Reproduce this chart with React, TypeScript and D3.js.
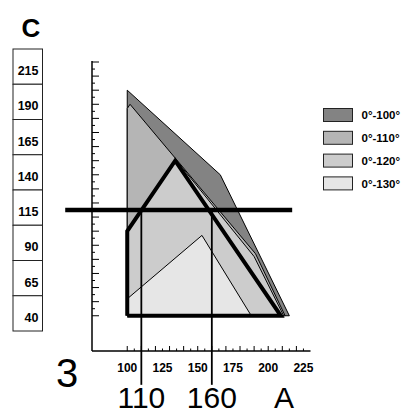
import React from 'react';
import * as d3 from 'd3';

// ---- data ----
const legendLabels = ['0°-100°', '0°-110°', '0°-120°', '0°-130°'];
const fillColors = ['#838383', '#b5b5b5', '#cccccc', '#e6e6e6'];
const area100: [number, number][] = [[100, 40], [100, 200], [166, 140], [215, 40]];
const area110: [number, number][] = [[100, 40], [100, 187], [102, 190], [191, 84], [212, 40]];
const area120: [number, number][] = [[100, 40], [100, 100], [135, 150], [190, 82], [211, 40]];
const area130: [number, number][] = [[100, 40], [100, 52], [153, 97], [188, 40]];
const outline: [number, number][] = [[100, 40], [100, 100], [134, 150], [209, 40], [100, 40]];
const hLineY = 115;
const hLineX: [number, number] = [56, 217];
const markX = [110, 160];
const markBottom = -9;
const boxLabels = [215, 190, 165, 140, 115, 90, 65, 40];
const xTickLabels = [100, 125, 150, 175, 200, 225];
const xMinorTicks = d3.range(100, 226, 5);
const yMinorTicks = d3.range(40, 221, 5);

const FONT = '"Liberation Sans", Arial, Helvetica, sans-serif';

export default function App() {
  const x = d3.scaleLinear().domain([75, 230]).range([92, 310.5]);
  const y = d3.scaleLinear().domain([15, 220]).range([351, 62]);
  const line = d3.line<[number, number]>().x(d => x(d[0])).y(d => y(d[1]));
  const poly = (pts: [number, number][]) => line(pts) + 'Z';
  const areas = [area100, area110, area120, area130];

  const boxTop = 49;
  const boxH = 35.25;

  return (
    <svg width={408} height={414} style={{ position: 'absolute', left: 0, top: 0, background: '#fff' }}
      fontFamily={FONT}>
      <rect x={0} y={0} width={408} height={414} fill="#fff" />
      {/* C label */}
      <text x={31} y={37} fontSize={26} fontWeight="bold" textAnchor="middle">C</text>

      {/* left boxes */}
      {boxLabels.map((v, i) => (
        <g key={v}>
          <rect x={13} y={boxTop + i * boxH} width={29.5} height={boxH} fill="#fff" stroke="#222" strokeWidth={1} />
          <text x={38.5} y={boxTop + i * boxH + 26} fontSize={12.5} fontWeight="bold" textAnchor="end">{v}</text>
        </g>
      ))}

      {/* areas */}
      {areas.map((a, i) => (
        <path key={i} d={poly(a)} fill={fillColors[i]} stroke="#000" strokeWidth={1} strokeLinejoin="miter" />
      ))}

      {/* thick outline */}
      <path d={line(outline) || ''} fill="none" stroke="#000" strokeWidth={4} strokeLinejoin="miter" />

      {/* axes */}
      <line x1={x(75)} x2={x(75)} y1={y(220) - 1} y2={y(15)} stroke="#000" strokeWidth={1.5} />
      <line x1={x(75)} x2={x(230)} y1={y(15)} y2={y(15)} stroke="#000" strokeWidth={1.5} />
      {yMinorTicks.map(t => (
        <line key={t} x1={x(75)} x2={x(75) + (t % 10 === 0 ? 7 : 3)} y1={y(t)} y2={y(t)} stroke="#000" strokeWidth={1} />
      ))}
      {xMinorTicks.map(t => (
        <line key={t} x1={x(t)} x2={x(t)} y1={y(15)} y2={y(15) - (t % 10 === 0 ? 5 : 2.5)} stroke="#000" strokeWidth={1} />
      ))}
      {xTickLabels.map(t => (
        <text key={t} x={x(t)} y={372} fontSize={12} fontWeight="bold" textAnchor="middle">{t}</text>
      ))}

      {/* horizontal 115 line */}
      <line x1={x(hLineX[0])} x2={x(hLineX[1])} y1={y(hLineY)} y2={y(hLineY)} stroke="#000" strokeWidth={4.3} />

      {/* vertical marks */}
      {markX.map(m => (
        <g key={m}>
          <line x1={x(m)} x2={x(m)} y1={y(hLineY)} y2={y(markBottom)} stroke="#000" strokeWidth={1.8} />
          <text x={x(m)} y={407.5} fontSize={30} textAnchor="middle">{m}</text>
        </g>
      ))}

      <text x={67} y={387} fontSize={40} textAnchor="middle">3</text>
      <text x={284} y={407.5} fontSize={30} textAnchor="middle">A</text>

      {/* legend */}
      {legendLabels.map((l, i) => (
        <g key={l}>
          <rect x={323.5} y={108.5 + i * 22.8} width={29} height={13} fill={fillColors[i]} stroke="#222" strokeWidth={1} />
          <text x={361.5} y={119.3 + i * 22.8} fontSize={11.5} fontWeight="bold">{l}</text>
        </g>
      ))}
    </svg>
  );
}
